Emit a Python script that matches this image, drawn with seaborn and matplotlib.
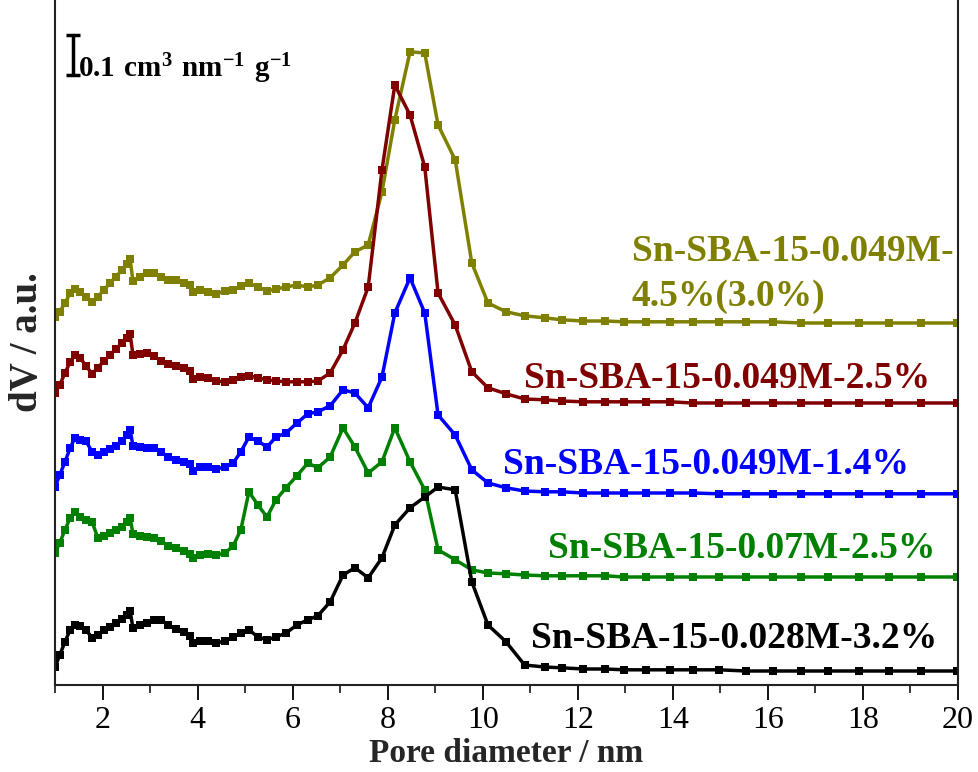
import matplotlib
matplotlib.use("Agg")
import matplotlib.pyplot as plt
import numpy as np
import pandas as pd
import seaborn as sns

# Pore diameter grid (nm) shared by the BJH distributions
pore_diameter = [
    1.00, 1.10, 1.21, 1.32, 1.42, 1.53, 1.65, 1.78, 1.90, 2.03,
    2.16, 2.28, 2.41, 2.51, 2.58, 2.64, 2.79, 2.94, 3.08, 3.23,
    3.38, 3.55, 3.71, 3.84, 3.90, 4.05, 4.22, 4.39, 4.58, 4.75,
    4.91, 5.08, 5.27, 5.46, 5.65, 5.86, 6.09, 6.32, 6.53, 6.79,
    7.06, 7.31, 7.59, 7.88, 8.15, 8.47, 8.78, 9.06, 9.42, 9.77,
    10.11, 10.49, 10.88, 11.30, 11.66, 12.12, 12.58, 12.97, 13.43, 13.94,
    14.42, 14.97, 15.54, 16.10, 16.70, 17.27, 17.92, 18.55, 19.22, 19.98,
]

# dV (cm3 nm-1 g-1) for each sample
dv_049M_45 = [
    0.020, 0.033, 0.055, 0.080, 0.090, 0.083, 0.070, 0.058, 0.070, 0.088,
    0.105, 0.120, 0.138, 0.153, 0.165, 0.110, 0.120, 0.130, 0.130, 0.120,
    0.113, 0.113, 0.105, 0.100, 0.083, 0.088, 0.083, 0.078, 0.085, 0.088,
    0.098, 0.105, 0.095, 0.085, 0.090, 0.095, 0.100, 0.095, 0.100, 0.118,
    0.150, 0.183, 0.200, 0.333, 0.513, 0.683, 0.680, 0.500, 0.413, 0.155,
    0.055, 0.033, 0.023, 0.018, 0.013, 0.010, 0.010, 0.008, 0.008, 0.008,
    0.008, 0.008, 0.008, 0.008, 0.005, 0.005, 0.005, 0.005, 0.005, 0.005,
]
dv_049M_25 = [
    0.030, 0.050, 0.080, 0.108, 0.125, 0.118, 0.098, 0.078, 0.093, 0.110,
    0.125, 0.140, 0.155, 0.168, 0.178, 0.125, 0.128, 0.130, 0.123, 0.110,
    0.103, 0.098, 0.093, 0.085, 0.065, 0.070, 0.068, 0.060, 0.058, 0.063,
    0.070, 0.073, 0.068, 0.063, 0.060, 0.058, 0.058, 0.058, 0.060, 0.080,
    0.138, 0.205, 0.295, 0.588, 0.800, 0.725, 0.595, 0.280, 0.200, 0.083,
    0.043, 0.028, 0.015, 0.013, 0.010, 0.008, 0.008, 0.008, 0.008, 0.008,
    0.005, 0.005, 0.005, 0.005, 0.005, 0.005, 0.005, 0.005, 0.005, 0.005,
]
dv_049M_14 = [
    0.025, 0.055, 0.088, 0.123, 0.148, 0.143, 0.140, 0.113, 0.105, 0.113,
    0.120, 0.128, 0.140, 0.155, 0.168, 0.128, 0.125, 0.123, 0.123, 0.113,
    0.100, 0.093, 0.088, 0.083, 0.065, 0.075, 0.075, 0.070, 0.075, 0.085,
    0.113, 0.150, 0.140, 0.125, 0.150, 0.160, 0.185, 0.208, 0.213, 0.228,
    0.268, 0.260, 0.223, 0.300, 0.460, 0.548, 0.460, 0.205, 0.155, 0.068,
    0.035, 0.023, 0.015, 0.013, 0.013, 0.010, 0.010, 0.010, 0.010, 0.010,
    0.010, 0.008, 0.008, 0.008, 0.008, 0.008, 0.008, 0.008, 0.008, 0.008,
]
dv_07M_25 = [
    0.070, 0.095, 0.128, 0.158, 0.173, 0.160, 0.153, 0.148, 0.108, 0.113,
    0.120, 0.128, 0.135, 0.148, 0.158, 0.118, 0.113, 0.110, 0.108, 0.100,
    0.088, 0.083, 0.075, 0.068, 0.058, 0.065, 0.068, 0.065, 0.070, 0.088,
    0.128, 0.223, 0.190, 0.160, 0.203, 0.233, 0.263, 0.295, 0.283, 0.310,
    0.383, 0.335, 0.270, 0.298, 0.383, 0.298, 0.228, 0.078, 0.053, 0.028,
    0.020, 0.018, 0.015, 0.013, 0.013, 0.013, 0.013, 0.010, 0.010, 0.010,
    0.010, 0.010, 0.010, 0.010, 0.010, 0.010, 0.010, 0.010, 0.010, 0.010,
]
dv_028M_32 = [
    0.045, 0.075, 0.108, 0.138, 0.150, 0.148, 0.138, 0.118, 0.125, 0.138,
    0.145, 0.155, 0.165, 0.175, 0.185, 0.143, 0.150, 0.155, 0.163, 0.163,
    0.150, 0.140, 0.133, 0.123, 0.105, 0.110, 0.110, 0.105, 0.110, 0.120,
    0.130, 0.138, 0.120, 0.113, 0.120, 0.130, 0.150, 0.163, 0.173, 0.208,
    0.275, 0.293, 0.268, 0.318, 0.400, 0.443, 0.470, 0.495, 0.488, 0.258,
    0.150, 0.108, 0.050, 0.045, 0.043, 0.040, 0.040, 0.038, 0.038, 0.038,
    0.038, 0.038, 0.035, 0.035, 0.035, 0.035, 0.035, 0.035, 0.035, 0.035,
]

samples = [
    "Sn-SBA-15-0.049M-4.5%(3.0%)",
    "Sn-SBA-15-0.049M-2.5%",
    "Sn-SBA-15-0.049M-1.4%",
    "Sn-SBA-15-0.07M-2.5%",
    "Sn-SBA-15-0.028M-3.2%",
]
series = [dv_049M_45, dv_049M_25, dv_049M_14, dv_07M_25, dv_028M_32]
stack_offsets = [0.90, 0.70, 0.47, 0.26, 0.00]
colors = ["#808000", "#800000", "#0000ff", "#008000", "#000000"]
x_ticks = [2, 4, 6, 8, 10, 12, 14, 16, 18, 20]
scale_bar = 0.1

frames = []
for name, vals, off in zip(samples, series, stack_offsets):
    frames.append(pd.DataFrame({
        "diameter": pore_diameter,
        "dV": np.asarray(vals) + off,
        "sample": name,
    }))
df = pd.concat(frames, ignore_index=True)

sns.set_theme(style="ticks")
plt.rcParams["font.family"] = ["Liberation Serif", "DejaVu Serif"]
plt.rcParams["mathtext.fontset"] = "custom"
plt.rcParams["mathtext.rm"] = "Liberation Serif"
plt.rcParams["mathtext.bf"] = "Liberation Serif:bold"

fig = plt.figure(figsize=(9.79, 7.72), dpi=100)
ax = fig.add_axes([55 / 979, 87 / 772, 903 / 979, 685 / 772])

sns.lineplot(
    data=df, x="diameter", y="dV", hue="sample", hue_order=samples,
    palette=dict(zip(samples, colors)), marker="s", markersize=5.5,
    markeredgewidth=0, linewidth=2.5, estimator=None, sort=False,
    legend=False, ax=ax,
)

ax.set_xlim(1, 20)
ax.set_ylim(0, 1.7125)
ax.set_xticks(x_ticks)
ax.set_xticks(range(1, 21), minor=True)
ax.set_yticks([])
ax.tick_params(axis="x", which="major", direction="out", length=11, width=1.3,
               labelsize=23, pad=4, colors="black")
ax.tick_params(axis="x", which="minor", direction="out", length=6, width=1.3)
for side in ("left", "bottom", "right"):
    ax.spines[side].set_linewidth(1.5)
    ax.spines[side].set_color("#222222")
ax.spines["top"].set_visible(False)

ax.set_xlabel("Pore diameter / nm", fontsize=24, fontweight="bold", labelpad=2)
ax.set_ylabel("dV / a.u.", fontsize=28, fontweight="bold")
ax.yaxis.set_label_coords(-0.010, 0.5)

# Scale bar
bar_x, bar_top = 1.38, 1.625
ax.errorbar([bar_x], [bar_top - scale_bar / 2], yerr=scale_bar / 2, color="black",
            capsize=5, elinewidth=2.5, capthick=2.5, fmt="none")
ax.text(1.48, bar_top - scale_bar * 0.85,
        r"$\mathbf{0.1\ cm^{3}\ nm^{-1}\ g^{-1}}$",
        fontsize=21, ha="left", va="center", color="black")

label_kw = dict(fontsize=27, fontweight="bold", ha="center", va="center")
ax.text(16.52, 1.028, "Sn-SBA-15-0.049M-\n4.5%(3.0%)", color=colors[0],
        multialignment="left", linespacing=1.38, **label_kw)
ax.text(15.15, 0.7675, samples[1], color=colors[1], **label_kw)
ax.text(14.69, 0.55, samples[2], color=colors[2], **label_kw)
ax.text(15.45, 0.3425, samples[3], color=colors[3], **label_kw)
ax.text(15.29, 0.1175, samples[4], color=colors[4], **label_kw)

fig.savefig("out.png", dpi=100)
